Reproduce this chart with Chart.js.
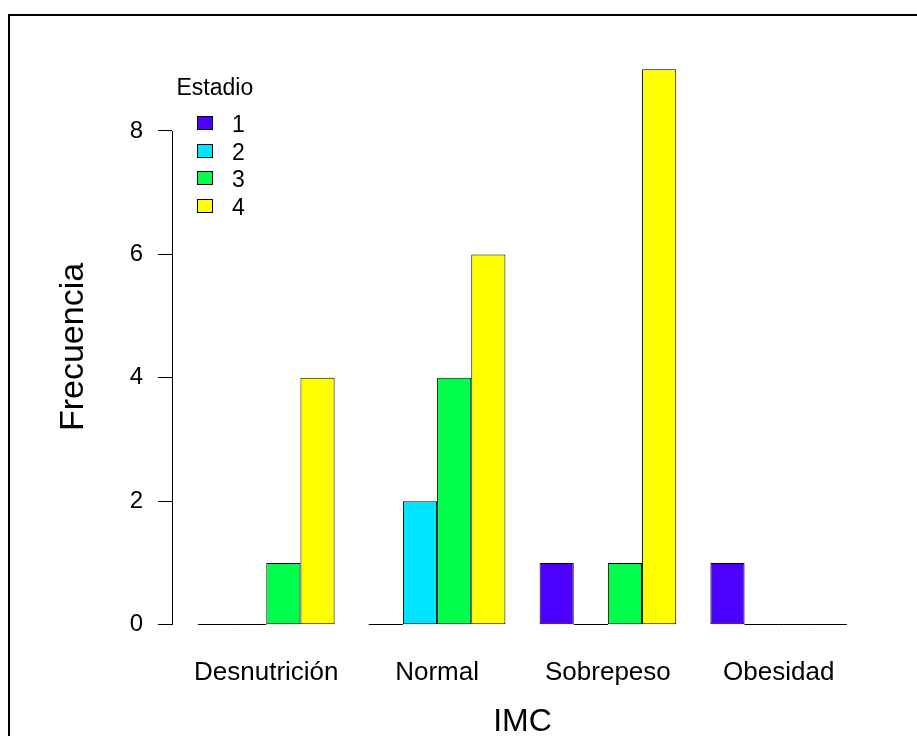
<!DOCTYPE html>
<html>
<head>
<meta charset="utf-8">
<script src="https://cdn.jsdelivr.net/npm/chart.js@4"></script>
<style>
  html, body { margin: 0; padding: 0; background: #fff; overflow: hidden; }
  #wrap { position: relative; width: 917px; height: 736px; }
  #frame { position: absolute; left: 8px; top: 14px; width: 1000px; height: 1000px;
           border-left: 2px solid #000; border-top: 2px solid #000; }
  canvas { position: absolute; left: 0; top: 0; }
</style>
</head>
<body>
<div id="wrap">
  <div id="frame"></div>
  <canvas id="chart" width="917" height="736"></canvas>
</div>
<script>
var categories = ['Desnutrición', 'Normal', 'Sobrepeso', 'Obesidad'];
var estadios = ['1', '2', '3', '4'];
var estadio1 = [0, 0, 1, 1];
var estadio2 = [0, 2, 0, 0];
var estadio3 = [1, 4, 1, 0];
var estadio4 = [4, 6, 9, 0];
var yTicks = [0, 2, 4, 6, 8];
var colores = ['#4C00FF', '#00E5FF', '#00FF4D', '#FFFF00']; // topo.colors(4)
var legendTitle = 'Estadio';

var FONT = "'Liberation Sans', Arial, Helvetica, sans-serif";
var series = [estadio1, estadio2, estadio3, estadio4];

// barplot(beside = TRUE) layout: each group = one gap + one unit per bar
var groupWidth = estadios.length + 1;
function groupCenter(i) {
  return i * groupWidth + 1 + estadios.length / 2;
}

// R extends the axis ranges by 4%
var xLo = 1, xHi = categories.length * groupWidth;
var xExt = (xHi - xLo) * 0.04;
var yHi = Math.max.apply(null, [].concat.apply([], series));
var yExt = yHi * 0.04;

var datasets = series.map(function(vals, s) {
  return {
    label: estadios[s],
    data: vals.map(function(v, i) { return { x: groupCenter(i), y: v }; }),
    backgroundColor: colores[s],
    borderColor: '#000',
    borderWidth: 1,
    borderSkipped: false,
    categoryPercentage: estadios.length / groupWidth,
    barPercentage: 1
  };
});

// things base R draws that Chart.js does not: short y axis line,
// flat rects for zero counts, and the legend
var rPlot = {
  id: 'rPlot',
  afterDatasetsDraw: function(chart) {
    var ctx = chart.ctx;
    var area = chart.chartArea;
    var ys = chart.scales.y;

    ctx.save();
    ctx.strokeStyle = '#000';
    ctx.lineWidth = 1;
    ctx.beginPath();
    var ax = Math.round(area.left) + 0.5;
    ctx.moveTo(ax, Math.round(ys.getPixelForValue(yTicks[0])));
    ctx.lineTo(ax, Math.round(ys.getPixelForValue(yTicks[yTicks.length - 1])));

    chart.data.datasets.forEach(function(ds, d) {
      var meta = chart.getDatasetMeta(d);
      meta.data.forEach(function(bar, i) {
        if (ds.data[i].y !== 0) return;
        var yb = Math.round(bar.base) - 0.5;
        ctx.moveTo(bar.x - bar.width / 2, yb);
        ctx.lineTo(bar.x + bar.width / 2, yb);
      });
    });
    ctx.stroke();

    // legend
    var lx = area.left, ly = area.top;
    ctx.font = '23px ' + FONT;
    ctx.textBaseline = 'middle';
    ctx.textAlign = 'left';
    ctx.fillStyle = '#000';
    ctx.fillText(legendTitle, lx + 4.5, ly + 41.5);
    chart.data.datasets.forEach(function(ds, s) {
      var bx = Math.round(lx + 25) + 0.5;
      var by = Math.round(ly + 69 + s * 27.5) + 0.5;
      ctx.fillStyle = ds.backgroundColor;
      ctx.fillRect(bx, by, 15, 13);
      ctx.strokeRect(bx, by, 15, 13);
      ctx.fillStyle = '#000';
      ctx.fillText(ds.label, lx + 60, by + 9);
    });
    ctx.restore();
  }
};

Chart.defaults.color = '#000';
Chart.defaults.font.family = FONT;

new Chart(document.getElementById('chart'), {
  type: 'bar',
  data: { datasets: datasets },
  plugins: [rPlot],
  options: {
    responsive: false,
    animation: false,
    devicePixelRatio: 1,
    layout: { padding: { top: 47, right: 44, left: 0, bottom: 0 } },
    plugins: {
      legend: { display: false },
      tooltip: { enabled: false }
    },
    scales: {
      x: {
        type: 'linear',
        offset: false,
        bounds: 'data',
        min: xLo - xExt,
        max: xHi + xExt,
        grid: { display: false },
        border: { display: false },
        afterBuildTicks: function(scale) {
          scale.ticks = categories.map(function(c, i) { return { value: groupCenter(i) }; });
        },
        afterFit: function(scale) { scale.height = 89; },
        ticks: {
          autoSkip: false,
          maxRotation: 0,
          padding: 5,
          font: { size: 26, lineHeight: 1 },
          callback: function(v, i) { return categories[i]; }
        },
        title: {
          display: true,
          text: 'IMC',
          font: { size: 32, lineHeight: 1 },
          padding: { top: 0, bottom: -2 }
        }
      },
      y: {
        bounds: 'data',
        min: -yExt,
        max: yHi + yExt,
        grid: { drawOnChartArea: false, drawTicks: true, tickLength: 14, color: '#000', lineWidth: 1 },
        border: { display: false },
        afterBuildTicks: function(scale) {
          scale.ticks = yTicks.map(function(v) { return { value: v }; });
        },
        afterFit: function(scale) { scale.width = 172; },
        ticks: {
          padding: 15,
          font: { size: 24, lineHeight: 1 },
          callback: function(v) { return String(v); }
        },
        title: {
          display: true,
          text: 'Frecuencia',
          font: { size: 34, lineHeight: 1 },
          padding: { top: 57, bottom: 0 }
        }
      }
    }
  }
});
</script>
</body>
</html>
